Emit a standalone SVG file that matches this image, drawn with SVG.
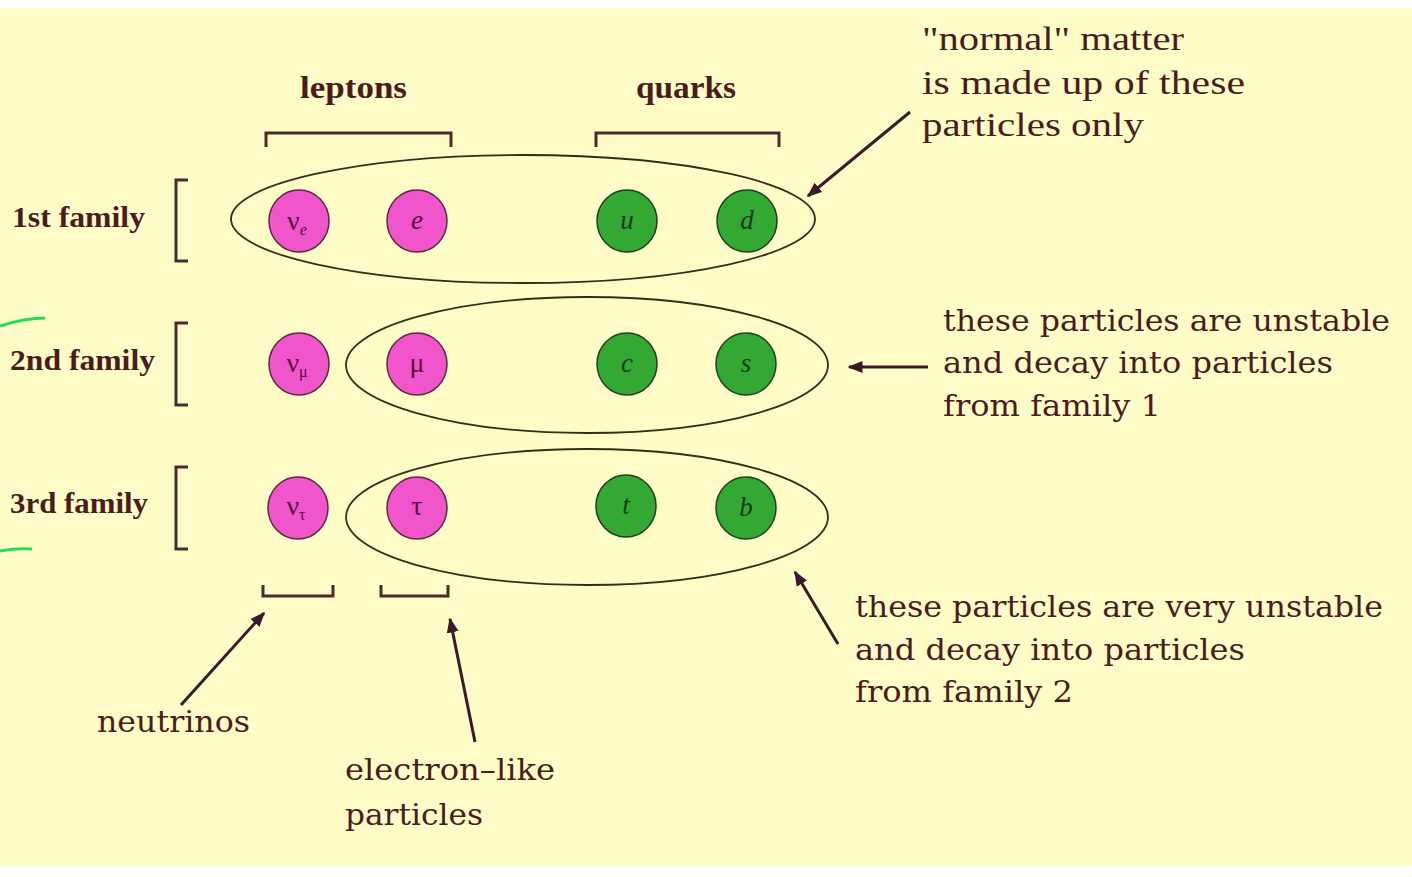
<svg xmlns="http://www.w3.org/2000/svg" width="1412" height="877" viewBox="0 0 1412 877">
<defs>
<style>
.lbl{font-family:"Liberation Serif",serif;font-weight:bold;fill:#4a1c1c}
.txt{font-family:"DejaVu Serif","Liberation Serif",serif;fill:#4a1c1c;font-size:29px}
.cond{font-family:"Liberation Serif",serif;fill:#4a1c1c;font-size:34px}
.brk{fill:none;stroke:#4a2a2a;stroke-width:3}
.ell{fill:none;stroke:#3a2a1a;stroke-width:1.8}
.lep{fill:#f055cc;stroke:#5a2a3a;stroke-width:1.5}
.qrk{fill:#33a833;stroke:#1f3f1f;stroke-width:1.5}
.sym{font-family:"Liberation Serif",serif;font-style:italic;font-size:27px;text-anchor:middle}
.nu{font-family:"Liberation Serif",serif;font-size:28px;text-anchor:middle}
.sl{fill:#5a0a40}
.sq{fill:#1d3a1d}
.arr{stroke:#3a1a2a;stroke-width:3;fill:none}
</style>
<marker id="ah" viewBox="0 0 10 10" refX="9" refY="5" markerWidth="5" markerHeight="5" orient="auto">
<path d="M0,1 L10,5 L0,9 Z" fill="#3a1a2a"/>
</marker>
</defs>
<rect x="0" y="0" width="1412" height="877" fill="#ffffff"/>
<rect x="0" y="8" width="1412" height="858" fill="#fffcc8"/>
<path d="M0,326 Q25,318 45,318" stroke="#22dd55" stroke-width="3" fill="none"/>
<path d="M0,551 Q15,548 32,549" stroke="#22dd55" stroke-width="3" fill="none"/>

<g id="headers">
<text class="lbl" x="300" y="98" font-size="32" textLength="107" lengthAdjust="spacingAndGlyphs">leptons</text>
<text class="lbl" x="636" y="98" font-size="32" textLength="100" lengthAdjust="spacingAndGlyphs">quarks</text>
<path class="brk" d="M266,147 V133 H451 V147"/>
<path class="brk" d="M596,147 V133 H779 V147"/>
</g>

<g id="families">
<text class="lbl" x="12" y="227" font-size="30" textLength="133" lengthAdjust="spacingAndGlyphs">1st family</text>
<text class="lbl" x="10" y="370" font-size="30" textLength="145" lengthAdjust="spacingAndGlyphs">2nd family</text>
<text class="lbl" x="10" y="513" font-size="30" textLength="138" lengthAdjust="spacingAndGlyphs">3rd family</text>
<path class="brk" d="M188,180 H176 V261 H188"/>
<path class="brk" d="M188,323 H176 V405 H188"/>
<path class="brk" d="M188,467 H176 V549 H188"/>
</g>

<g id="groups">
<ellipse class="ell" cx="523" cy="219" rx="292" ry="64"/>
<ellipse class="ell" cx="587" cy="365" rx="241" ry="68"/>
<ellipse class="ell" cx="587" cy="517" rx="241" ry="68"/>
</g>

<g id="row1">
<g id="nu_e"><ellipse class="lep" cx="299" cy="221" rx="30" ry="31"/><text class="nu sl" x="297" y="230">ν<tspan font-size="16" dy="5" font-style="italic">e</tspan></text></g>
<g id="electron"><ellipse class="lep" cx="417" cy="221" rx="30" ry="31"/><text class="sym sl" x="417" y="229">e</text></g>
<g id="up"><ellipse class="qrk" cx="627" cy="221" rx="30" ry="31"/><text class="sym sq" x="627" y="229">u</text></g>
<g id="down"><ellipse class="qrk" cx="747" cy="221" rx="30" ry="31"/><text class="sym sq" x="747" y="229">d</text></g>
</g>
<g id="row2">
<g id="nu_mu"><ellipse class="lep" cx="299" cy="364" rx="30" ry="31"/><text class="nu sl" x="297" y="372">ν<tspan font-size="16" dy="5">μ</tspan></text></g>
<g id="muon"><ellipse class="lep" cx="417" cy="364" rx="30" ry="31"/><text class="nu sl" x="417" y="372">μ</text></g>
<g id="charm"><ellipse class="qrk" cx="627" cy="364" rx="30" ry="31"/><text class="sym sq" x="627" y="372">c</text></g>
<g id="strange"><ellipse class="qrk" cx="746" cy="364" rx="30" ry="31"/><text class="sym sq" x="746" y="372">s</text></g>
</g>
<g id="row3">
<g id="nu_tau"><ellipse class="lep" cx="298" cy="508" rx="30" ry="31"/><text class="nu sl" x="296" y="515">ν<tspan font-size="16" dy="5">τ</tspan></text></g>
<g id="tau"><ellipse class="lep" cx="417" cy="508" rx="30" ry="31"/><text class="nu sl" x="417" y="515">τ</text></g>
<g id="top"><ellipse class="qrk" cx="626" cy="506" rx="30" ry="31"/><text class="sym sq" x="626" y="514">t</text></g>
<g id="bottom"><ellipse class="qrk" cx="746" cy="508" rx="30" ry="31"/><text class="sym sq" x="746" y="516">b</text></g>
</g>

<g id="bottom-brackets">
<path class="brk" d="M263,585 V596 H333 V585"/>
<path class="brk" d="M381,585 V596 H448 V585"/>
</g>

<g id="connectors">
<line class="arr" x1="910" y1="112" x2="808" y2="196" marker-end="url(#ah)"/>
<line class="arr" x1="928" y1="367" x2="849" y2="367" marker-end="url(#ah)"/>
<line class="arr" x1="838" y1="644" x2="795" y2="572" marker-end="url(#ah)"/>
<line class="arr" x1="181" y1="705" x2="264" y2="613" marker-end="url(#ah)"/>
<line class="arr" x1="475" y1="742" x2="450" y2="619" marker-end="url(#ah)"/>
</g>

<g id="note-normal">
<text class="cond" x="922" y="50" textLength="262" lengthAdjust="spacingAndGlyphs">"normal" matter</text>
<text class="cond" x="922" y="94" textLength="323" lengthAdjust="spacingAndGlyphs">is made up of these</text>
<text class="cond" x="922" y="136" textLength="222" lengthAdjust="spacingAndGlyphs">particles only</text>
</g>
<g id="note-family2">
<text class="txt" x="943" y="331" textLength="447" lengthAdjust="spacingAndGlyphs">these particles are unstable</text>
<text class="txt" x="943" y="373" textLength="390" lengthAdjust="spacingAndGlyphs">and decay into particles</text>
<text class="txt" x="943" y="416" textLength="218" lengthAdjust="spacingAndGlyphs">from family 1</text>
</g>
<g id="note-family3">
<text class="txt" x="855" y="617" textLength="528" lengthAdjust="spacingAndGlyphs">these particles are very unstable</text>
<text class="txt" x="855" y="660" textLength="390" lengthAdjust="spacingAndGlyphs">and decay into particles</text>
<text class="txt" x="855" y="702" textLength="218" lengthAdjust="spacingAndGlyphs">from family 2</text>
</g>
<g id="note-neutrinos">
<text class="txt" x="97" y="732" textLength="153" lengthAdjust="spacingAndGlyphs">neutrinos</text>
</g>
<g id="note-electron">
<text class="txt" x="345" y="780" textLength="210" lengthAdjust="spacingAndGlyphs">electron–like</text>
<text class="txt" x="345" y="825" textLength="138" lengthAdjust="spacingAndGlyphs">particles</text>
</g>
</svg>
